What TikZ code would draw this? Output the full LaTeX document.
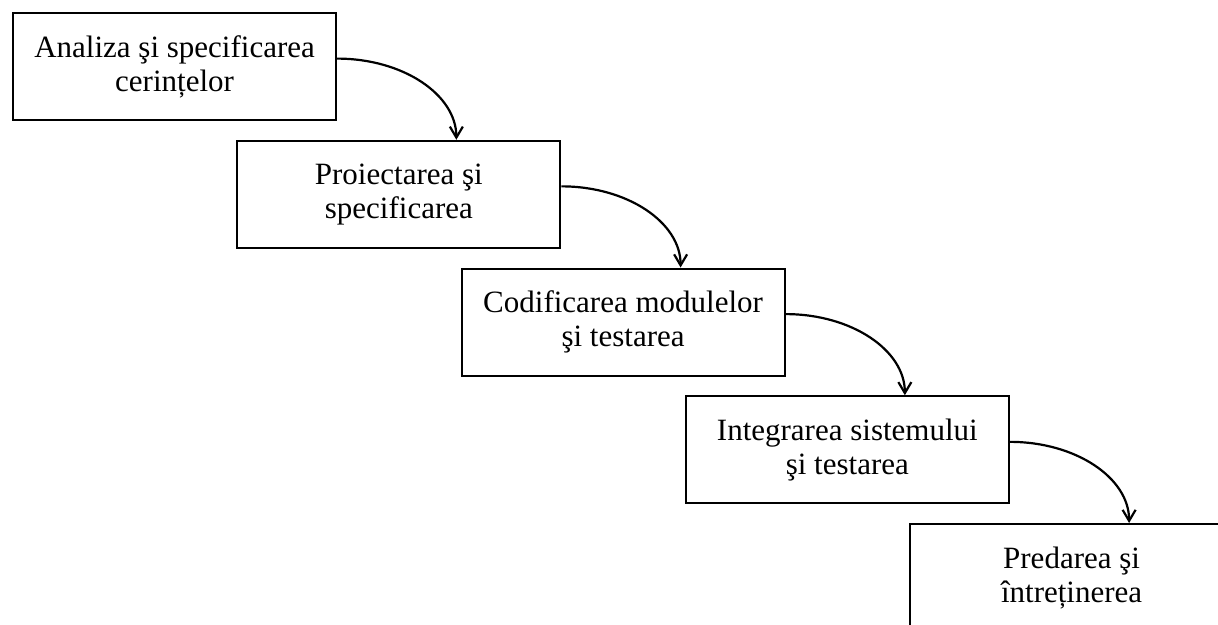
\documentclass[tikz,border=0pt]{standalone}
\usepackage{fontspec}
\setmainfont{Liberation Serif}
\usetikzlibrary{arrows.meta}
\begin{document}
\begin{tikzpicture}[x=1pt,y=-1pt,
  phase/.style={draw, line width=2.2pt, minimum width=323pt, minimum height=107pt,
    inner sep=0pt, anchor=north west, align=center,
    font=\fontsize{31}{34}\selectfont},
  flow/.style={line width=2.2pt, -{Straight Barb[length=11pt,width=13pt]}}]
\useasboundingbox (0,0) rectangle (1218,624);
\clip (0,0) rectangle (1218,624);
% the five stages of the waterfall model, stepping down to the right
\node[phase] (b1) at (12,12)          {Analiza şi specificarea\\cerințelor};
\node[phase] (b2) at (236.25,139.75)  {Proiectarea şi\\specificarea};
\node[phase] (b3) at (460.5,267.5)    {Codificarea modulelor\\şi testarea};
\node[phase] (b4) at (684.75,395.25)  {Integrarea sistemului\\şi testarea};
\node[phase] (b5) at (909,523)        {Predarea şi\\întreținerea};
% curved arrows from each stage into the next one
\draw[flow] ([yshift=8pt]b1.east) .. controls +(66,0) and +(0,-45) .. ([xshift=57.5pt]b2.north);
\draw[flow] ([yshift=8pt]b2.east) .. controls +(66,0) and +(0,-45) .. ([xshift=57.5pt]b3.north);
\draw[flow] ([yshift=8pt]b3.east) .. controls +(66,0) and +(0,-45) .. ([xshift=57.5pt]b4.north);
\draw[flow] ([yshift=8pt]b4.east) .. controls +(66,0) and +(0,-45) .. ([xshift=57.5pt]b5.north);
\end{tikzpicture}
\end{document}
